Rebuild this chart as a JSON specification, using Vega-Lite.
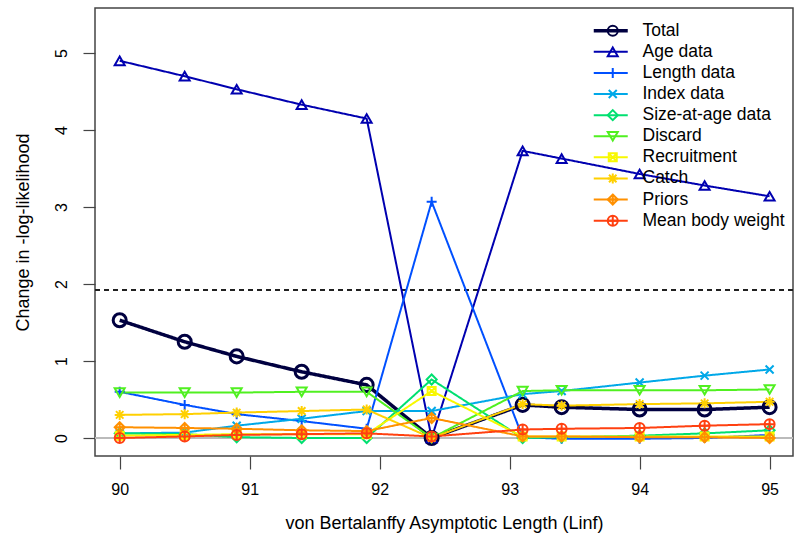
{
  "$schema": "https://vega.github.io/schema/vega-lite/v6.json",
  "width": 698,
  "height": 448,
  "autosize": "none",
  "padding": {"left": 95, "top": 8, "right": 1, "bottom": 84},
  "config": {
    "font": "Liberation Sans",
    "view": {"stroke": "#444444", "strokeWidth": 1.5},
    "axis": {"grid": false, "domain": false, "tickColor": "#444444", "tickWidth": 1.2, "labelColor": "#000000", "titleColor": "#000000", "labelFontSize": 16, "titleFontSize": 18, "titleFontWeight": "normal", "labelFont": "Liberation Sans", "titleFont": "Liberation Sans"},
    "legend": {"orient": "none", "legendY": 14, "title": null, "padding": 0, "labelFontSize": 17.5, "labelFont": "Liberation Sans", "symbolSize": 100, "symbolStrokeWidth": 2, "rowPadding": 2.1, "labelOffset": 21, "symbolFillColor": "transparent", "symbolOpacity": 1}
  },
  "data": {"values": [
    {"x": 90, "c": "Total", "v": 1.53}, {"x": 90.5, "c": "Total", "v": 1.25}, {"x": 90.9, "c": "Total", "v": 1.06}, {"x": 91.4, "c": "Total", "v": 0.86}, {"x": 91.9, "c": "Total", "v": 0.69}, {"x": 92.4, "c": "Total", "v": 0.0}, {"x": 93.1, "c": "Total", "v": 0.43}, {"x": 93.4, "c": "Total", "v": 0.40}, {"x": 94, "c": "Total", "v": 0.37}, {"x": 94.5, "c": "Total", "v": 0.37}, {"x": 95, "c": "Total", "v": 0.40},
    {"x": 90, "c": "Age data", "v": 4.90}, {"x": 90.5, "c": "Age data", "v": 4.70}, {"x": 90.9, "c": "Age data", "v": 4.53}, {"x": 91.4, "c": "Age data", "v": 4.33}, {"x": 91.9, "c": "Age data", "v": 4.15}, {"x": 92.4, "c": "Age data", "v": 0.0}, {"x": 93.1, "c": "Age data", "v": 3.73}, {"x": 93.4, "c": "Age data", "v": 3.63}, {"x": 94, "c": "Age data", "v": 3.43}, {"x": 94.5, "c": "Age data", "v": 3.28}, {"x": 95, "c": "Age data", "v": 3.14},
    {"x": 90, "c": "Length data", "v": 0.60}, {"x": 90.5, "c": "Length data", "v": 0.43}, {"x": 90.9, "c": "Length data", "v": 0.31}, {"x": 91.4, "c": "Length data", "v": 0.22}, {"x": 91.9, "c": "Length data", "v": 0.12}, {"x": 92.4, "c": "Length data", "v": 3.07}, {"x": 93.1, "c": "Length data", "v": 0.01}, {"x": 93.4, "c": "Length data", "v": -0.01}, {"x": 94, "c": "Length data", "v": -0.01}, {"x": 94.5, "c": "Length data", "v": 0.0}, {"x": 95, "c": "Length data", "v": 0.04},
    {"x": 90, "c": "Index data", "v": 0.06}, {"x": 90.5, "c": "Index data", "v": 0.07}, {"x": 90.9, "c": "Index data", "v": 0.16}, {"x": 91.4, "c": "Index data", "v": 0.25}, {"x": 91.9, "c": "Index data", "v": 0.35}, {"x": 92.4, "c": "Index data", "v": 0.35}, {"x": 93.1, "c": "Index data", "v": 0.57}, {"x": 93.4, "c": "Index data", "v": 0.61}, {"x": 94, "c": "Index data", "v": 0.72}, {"x": 94.5, "c": "Index data", "v": 0.81}, {"x": 95, "c": "Index data", "v": 0.89},
    {"x": 90, "c": "Size-at-age data", "v": 0.06}, {"x": 90.5, "c": "Size-at-age data", "v": 0.05}, {"x": 90.9, "c": "Size-at-age data", "v": 0.01}, {"x": 91.4, "c": "Size-at-age data", "v": 0.0}, {"x": 91.9, "c": "Size-at-age data", "v": 0.0}, {"x": 92.4, "c": "Size-at-age data", "v": 0.76}, {"x": 93.1, "c": "Size-at-age data", "v": 0.0}, {"x": 93.4, "c": "Size-at-age data", "v": 0.01}, {"x": 94, "c": "Size-at-age data", "v": 0.03}, {"x": 94.5, "c": "Size-at-age data", "v": 0.06}, {"x": 95, "c": "Size-at-age data", "v": 0.10},
    {"x": 90, "c": "Discard", "v": 0.59}, {"x": 90.5, "c": "Discard", "v": 0.59}, {"x": 90.9, "c": "Discard", "v": 0.59}, {"x": 91.4, "c": "Discard", "v": 0.60}, {"x": 91.9, "c": "Discard", "v": 0.60}, {"x": 92.4, "c": "Discard", "v": 0.0}, {"x": 93.1, "c": "Discard", "v": 0.61}, {"x": 93.4, "c": "Discard", "v": 0.62}, {"x": 94, "c": "Discard", "v": 0.62}, {"x": 94.5, "c": "Discard", "v": 0.62}, {"x": 95, "c": "Discard", "v": 0.63},
    {"x": 90, "c": "Recruitment", "v": 0.03}, {"x": 90.5, "c": "Recruitment", "v": 0.04}, {"x": 90.9, "c": "Recruitment", "v": 0.05}, {"x": 91.4, "c": "Recruitment", "v": 0.05}, {"x": 91.9, "c": "Recruitment", "v": 0.05}, {"x": 92.4, "c": "Recruitment", "v": 0.61}, {"x": 93.1, "c": "Recruitment", "v": 0.02}, {"x": 93.4, "c": "Recruitment", "v": 0.02}, {"x": 94, "c": "Recruitment", "v": 0.02}, {"x": 94.5, "c": "Recruitment", "v": 0.02}, {"x": 95, "c": "Recruitment", "v": 0.02},
    {"x": 90, "c": "Catch", "v": 0.30}, {"x": 90.5, "c": "Catch", "v": 0.31}, {"x": 90.9, "c": "Catch", "v": 0.33}, {"x": 91.4, "c": "Catch", "v": 0.35}, {"x": 91.9, "c": "Catch", "v": 0.37}, {"x": 92.4, "c": "Catch", "v": 0.0}, {"x": 93.1, "c": "Catch", "v": 0.44}, {"x": 93.4, "c": "Catch", "v": 0.42}, {"x": 94, "c": "Catch", "v": 0.44}, {"x": 94.5, "c": "Catch", "v": 0.45}, {"x": 95, "c": "Catch", "v": 0.47},
    {"x": 90, "c": "Priors", "v": 0.14}, {"x": 90.5, "c": "Priors", "v": 0.13}, {"x": 90.9, "c": "Priors", "v": 0.12}, {"x": 91.4, "c": "Priors", "v": 0.10}, {"x": 91.9, "c": "Priors", "v": 0.09}, {"x": 92.4, "c": "Priors", "v": 0.26}, {"x": 93.1, "c": "Priors", "v": 0.02}, {"x": 93.4, "c": "Priors", "v": 0.02}, {"x": 94, "c": "Priors", "v": 0.01}, {"x": 94.5, "c": "Priors", "v": 0.01}, {"x": 95, "c": "Priors", "v": 0.0},
    {"x": 90, "c": "Mean body weight", "v": 0.0}, {"x": 90.5, "c": "Mean body weight", "v": 0.02}, {"x": 90.9, "c": "Mean body weight", "v": 0.04}, {"x": 91.4, "c": "Mean body weight", "v": 0.05}, {"x": 91.9, "c": "Mean body weight", "v": 0.06}, {"x": 92.4, "c": "Mean body weight", "v": 0.02}, {"x": 93.1, "c": "Mean body weight", "v": 0.11}, {"x": 93.4, "c": "Mean body weight", "v": 0.12}, {"x": 94, "c": "Mean body weight", "v": 0.13}, {"x": 94.5, "c": "Mean body weight", "v": 0.16}, {"x": 95, "c": "Mean body weight", "v": 0.18}
  ]},
  "layer": [
    {
      "mark": {"type": "rule", "color": "#BBBBBB", "strokeWidth": 1},
      "encoding": {"y": {"datum": 0, "type": "quantitative"}}
    },
    {
      "mark": {"type": "rule", "color": "#222222", "strokeWidth": 1, "strokeDash": [5, 4]},
      "encoding": {"y": {"datum": 1.92, "type": "quantitative"}}
    },
    {
      "mark": {"type": "line", "clip": true},
      "transform": [{"calculate": "datum.c + ' '", "as": "c2"}],
      "encoding": {
        "x": {"field": "x", "type": "quantitative", "scale": {"domain": [89.81, 95.18], "nice": false, "zero": false},
          "axis": {"values": [90, 91, 92, 93, 94, 95], "format": "d", "title": "von Bertalanffy Asymptotic Length (Linf)", "tickSize": 13, "labelPadding": 12, "titlePadding": 17}},
        "y": {"field": "v", "type": "quantitative", "scale": {"domain": [-0.234, 5.586], "nice": false, "zero": false},
          "axis": {"values": [0, 1, 2, 3, 4, 5], "format": "d", "title": "Change in -log-likelihood", "tickSize": 12, "labelAngle": -90, "labelAlign": "center", "labelBaseline": "bottom", "labelPadding": 14, "titlePadding": 21}},
        "color": {"field": "c", "type": "nominal",
          "scale": {"domain": ["Total", "Age data", "Length data", "Index data", "Size-at-age data", "Discard", "Recruitment", "Catch", "Priors", "Mean body weight"],
                    "range": ["#000040", "#0000B0", "#0050FF", "#00A8E8", "#00E070", "#50F020", "#F8F800", "#FFD000", "#FF9000", "#FF4010"]},
          "legend": {"legendX": 509, "labelColor": "#000000", "zindex": 2}},
        "strokeDash": {"field": "c2", "type": "nominal",
          "scale": {"domain": ["Total ", "Age data ", "Length data ", "Index data ", "Size-at-age data ", "Discard ", "Recruitment ", "Catch ", "Priors ", "Mean body weight "],
                    "range": [[1, 0], [1, 0], [1, 0], [1, 0], [1, 0], [1, 0], [1, 0], [1, 0], [1, 0], [1, 0]]},
          "legend": {"legendX": 507, "labelColor": "transparent", "labelExpr": "' '", "symbolType": "M-3.4,0H3.4", "zindex": 1,
            "encode": {"symbols": {"update": {"stroke": {"scale": "color", "signal": "trim(datum.value)"}, "strokeWidth": {"signal": "datum.value === 'Total ' ? 3.5 : 2"}, "strokeDash": {"value": [1, 0]}}}}}},
        "strokeWidth": {"condition": {"test": "datum.c === 'Total'", "value": 3.5}, "value": 2}
      }
    },
    {
      "mark": {"type": "point", "filled": false, "clip": true, "opacity": 1},
      "encoding": {
        "x": {"field": "x", "type": "quantitative"},
        "y": {"field": "v", "type": "quantitative"},
        "color": {"field": "c", "type": "nominal"},
        "shape": {"field": "c", "type": "nominal",
          "scale": {"domain": ["Total", "Age data", "Length data", "Index data", "Size-at-age data", "Discard", "Recruitment", "Catch", "Priors", "Mean body weight"],
                    "range": ["circle", "triangle-up", "M-1,0H1M0,-1V1", "M-0.8,-0.8L0.8,0.8M-0.8,0.8L0.8,-0.8", "diamond", "triangle-down", "M-0.8,-0.8H0.8V0.8H-0.8ZM-0.8,-0.8L0.8,0.8M-0.8,0.8L0.8,-0.8", "M-1,0H1M0,-1V1M-0.75,-0.75L0.75,0.75M-0.75,0.75L0.75,-0.75", "M0,-1L1,0L0,1L-1,0ZM-1,0H1M0,-1V1", "M1,0A1,1,0,1,1,-1,0A1,1,0,1,1,1,0ZM-1,0H1M0,-1V1"]},
          "legend": {"legendX": 509, "labelColor": "#000000", "zindex": 2}},
        "size": {"condition": {"test": "datum.c === 'Total'", "value": 170}, "value": 100},
        "strokeWidth": {"condition": {"test": "datum.c === 'Total'", "value": 3}, "value": 2}
      }
    }
  ]
}
